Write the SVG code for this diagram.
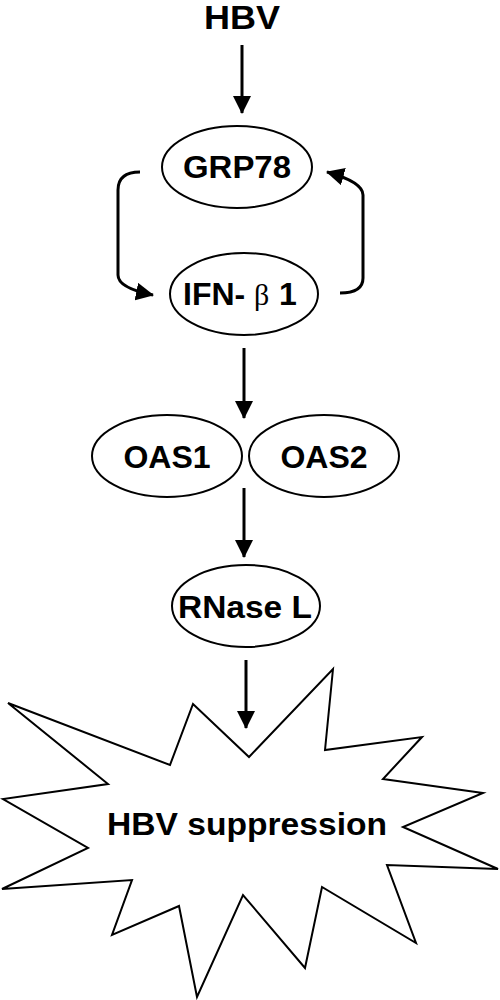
<svg xmlns="http://www.w3.org/2000/svg" width="500" height="1000" viewBox="0 0 500 1000">
<defs>
<marker id="ah" markerWidth="18" markerHeight="18" refX="17" refY="9" orient="auto" markerUnits="userSpaceOnUse">
<path d="M0,0 L18,9 L0,18 Z" fill="#000"/>
</marker>
<style>
.node{fill:#fff;stroke:#000;stroke-width:2}
.lbl{font-family:"Liberation Sans",Arial,sans-serif;font-weight:bold;font-size:32px;text-anchor:middle;fill:#000}
.conn{fill:none;stroke:#000;stroke-width:3;marker-end:url(#ah)}
</style>
</defs>
<rect width="500" height="1000" fill="#fff"/>
<g id="hbv">
<text class="lbl" x="242" y="29" style="font-size:34px" textLength="76" lengthAdjust="spacingAndGlyphs">HBV</text>
</g>
<g id="grp78">
<ellipse class="node" cx="237" cy="167" rx="75" ry="41"/>
<text class="lbl" x="237" y="178" textLength="108" lengthAdjust="spacingAndGlyphs">GRP78</text>
</g>
<g id="ifnb1">
<ellipse class="node" cx="244" cy="294" rx="74" ry="41"/>
<text style="font-family:'Liberation Sans',Arial,sans-serif;font-weight:bold;font-size:32px;fill:#000" x="183" y="305">IFN-</text>
<text style="font-family:'Liberation Serif','Times New Roman',serif;font-size:30px;fill:#000" x="254" y="305">β</text>
<text style="font-family:'Liberation Sans',Arial,sans-serif;font-weight:bold;font-size:32px;fill:#000" x="279" y="305">1</text>
</g>
<g id="oas1">
<ellipse class="node" cx="167" cy="456" rx="75" ry="41"/>
<text class="lbl" x="167" y="468">OAS1</text>
</g>
<g id="oas2">
<ellipse class="node" cx="324" cy="456" rx="75" ry="41"/>
<text class="lbl" x="324" y="468">OAS2</text>
</g>
<g id="rnasel">
<ellipse class="node" cx="246" cy="606" rx="74" ry="41"/>
<text class="lbl" x="245" y="618" textLength="134" lengthAdjust="spacingAndGlyphs">RNase L</text>
</g>
<g id="suppression">
<polygon class="node" points="333,669 325,750 422,737 383,779 483,793 403,827 498,869 387,865 416,943 322,887 305,968 243,895 197,997 179,906 112,935 132,880 2,889 88,848 3,799 108,784 8,703 170,765 193,704 249,757"/>
<text class="lbl" x="247" y="835" textLength="280" lengthAdjust="spacingAndGlyphs">HBV suppression</text>
</g>
<g id="connectors">
<line class="conn" x1="242" y1="45" x2="242" y2="113"/>
<path class="conn" d="M140,172 Q118,172 118,190 L118,275 Q118,288 153,295"/>
<path class="conn" d="M340,293 Q363,293 363,278 L363,195 Q363,182 327,172"/>
<line class="conn" x1="244" y1="348" x2="244" y2="418"/>
<line class="conn" x1="244" y1="488" x2="244" y2="557"/>
<line class="conn" x1="246" y1="660" x2="246" y2="728"/>
</g>
</svg>
